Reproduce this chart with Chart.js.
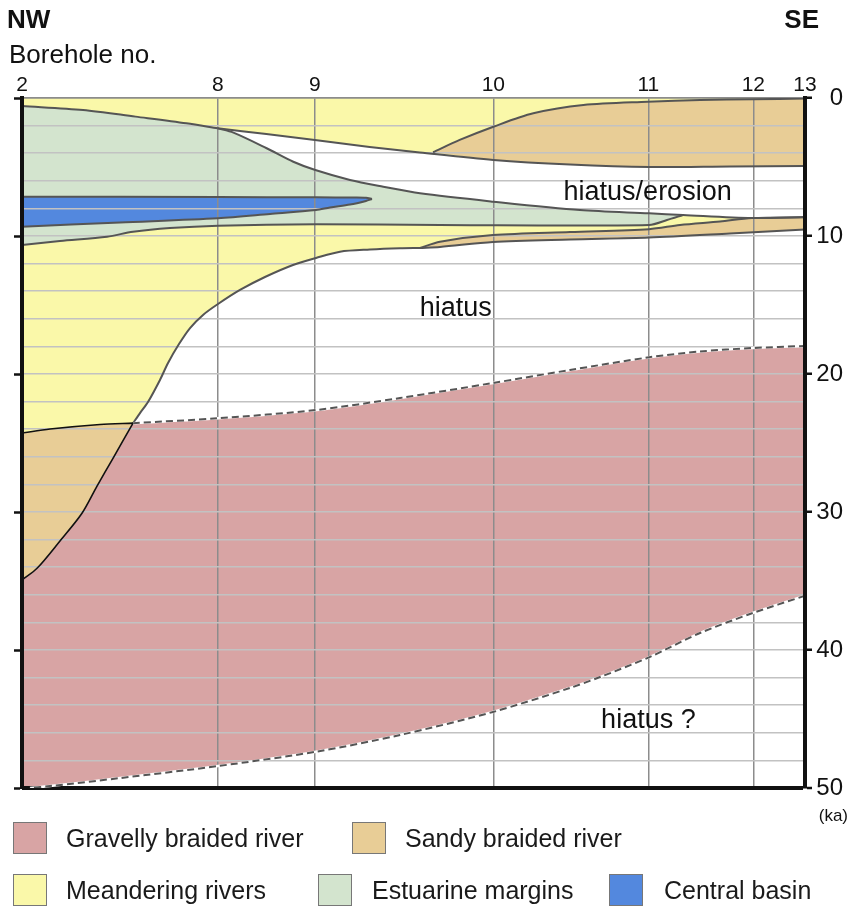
<!DOCTYPE html>
<html>
<head>
<meta charset="utf-8">
<script src="https://cdn.jsdelivr.net/npm/chart.js@4.4.1/dist/chart.umd.min.js"></script>
<style>
html,body{margin:0;padding:0;background:#fff;}
#wrap{position:relative;width:849px;height:907px;overflow:hidden;background:#fff;}
#c{position:absolute;left:0;top:0;}
.sw{position:absolute;box-sizing:border-box;border:1.5px solid #777;width:34px;height:32px;}
.lt{position:absolute;font-family:"Liberation Sans",Arial,sans-serif;font-size:25px;line-height:32px;height:32px;color:#1a1a1a;white-space:nowrap;}
</style>
</head>
<body>
<div id="wrap"><canvas id="c" width="849" height="907"></canvas></div>
<script>
// ---------- categories / tick labels ----------
const boreholeLabels = ['2', '8', '9', '10', '11', '12', '13'];
const boreholePos    = [0, 25.0, 37.4, 60.2, 80.0, 93.4, 100];   // relative distance along the NW-SE section
const ageLabelTicks  = [0, 10, 20, 30, 40, 50];                   // ka
const ageGridLines   = [0, 2, 4, 6, 8, 10, 12, 14, 16, 18, 20, 22, 24, 26, 28, 30, 32, 34, 36, 38, 40, 42, 44, 46, 48, 50];
const layerNames     = ['Gravelly braided river', 'Sandy braided river', 'Meandering rivers', 'Estuarine margins', 'Central basin'];

// ---------- unit boundaries: [distance, age (ka)] ----------
const estuarineTopWest = [[0,0.58],[7.8,0.87],[14.5,1.35],[21.0,1.83],[25.0,2.2]];
const meanderBaseUpper = [[25.0,2.2],[31.2,2.61],[37.4,3.04],[44.4,3.55],[50.8,3.95],[60.2,4.49],[70.0,4.82],[80.1,5.0],[90.4,4.96],[100,4.93]];
const sandyTopUpper    = [[52.5,3.93],[55.9,3.04],[60.2,2.08],[65.3,1.11],[71.7,0.51],[79.9,0.27],[86.6,0.14],[93.4,0.09],[100,0.04]];
const estuarineTopEast = [[25.0,2.2],[27.0,2.51],[31.25,3.64],[34.65,4.62],[37.46,5.22],[41.89,5.94],[46.14,6.43],[50.83,6.91],[60.15,7.51],[71.26,8.12],[80.08,8.36],[84.42,8.48],[93.23,8.70],[100,8.62]];
const estuarineBase    = [[0,10.65],[4.85,10.36],[10.86,10.05],[14.18,9.69],[18.9,9.42],[25.03,9.25],[37.55,9.15],[53.38,9.2],[80.08,9.2],[82.38,8.84],[84.42,8.48]];
const basinTop         = [[0,7.15],[25.03,7.17],[37.55,7.2],[42.53,7.21],[43.93,7.23],[44.7,7.32]];
const basinBase        = [[44.7,7.32],[43.93,7.46],[41.89,7.72],[39.34,7.93],[37.55,8.12],[31.67,8.41],[25.03,8.72],[12.52,9.02],[0,9.33]];
const sandyWedgeTop    = [[50.83,10.87],[53.38,10.41],[60.15,9.93],[69.99,9.71],[80.08,9.51],[84.04,9.2],[89.14,8.95],[93.23,8.7],[100,8.64]];
const sandyWedgeBase   = [[50.83,10.87],[53.38,10.8],[60.15,10.43],[69.99,10.25],[80.08,10.11],[90.42,9.82],[100,9.53]];
const meanderBaseLower = [[50.83,10.87],[48.28,10.89],[44.44,10.98],[40.61,11.14],[37.55,11.59],[34.61,12.1],[31.03,12.97],[27.84,13.91],[25.03,14.93],[23.12,15.72],[21.46,16.67],[20.05,17.83],[18.65,19.2],[17.62,20.43],[16.09,22.03],[15.07,22.83],[14.18,23.56]];
const sandyLowerTop    = [[0,24.28],[3.58,23.99],[9.96,23.66],[14.18,23.56]];
const sandyLowerEdge   = [[14.18,23.56],[11.62,26.11],[9.58,28.12],[7.66,30.09],[4.85,32.1],[1.92,34.08],[0,34.93]];
const gravelTop        = [[14.18,23.56],[25.03,23.21],[37.55,22.61],[48.28,21.74],[60.15,20.65],[69.99,19.71],[80.08,18.79],[86.59,18.37],[93.23,18.12],[100,17.97]];
const gravelBase       = [[100,36.07],[93.23,37.34],[86.59,38.77],[80.08,40.53],[73.82,41.96],[69.99,42.75],[60.15,44.49],[48.28,46.16],[37.55,47.37],[25.03,48.41],[12.52,49.28],[3.58,49.86],[1.02,50]];
const sectionCorners   = {topLeft:[0,0], topRight:[100,0], bottomLeft:[0,50]};

// ---------- styles ----------
const colors = {
  gravel: '#d8a4a4', sandy: '#e8cd96', meander: '#faf8a9', estuarine: '#d3e4ce', basin: '#5388de',
  line: '#555555', black: '#111111', gridH: '#c2c2c2', gridV: '#8c8c8c'
};
const legendColors = [colors.gravel, colors.sandy, colors.meander, colors.estuarine, colors.basin];
const TENSION = 0.3;
const FONT = '"Liberation Sans", Arial, sans-serif';

// ---------- helpers ----------
const rev = a => a.slice().reverse();
const pts = a => a.map(([x, y]) => ({x, y}));
function poly(...parts) {           // join boundary pieces into a closed outline (sharp joins)
  const out = [];
  for (const p of parts) out.push(p[0], ...p, p[p.length - 1]);
  return pts(out);
}
const fillSet = (label, data, color) => ({label, data, fill: 'shape', backgroundColor: color, borderWidth: 0, pointRadius: 0, tension: TENSION});
const lineSet = (data, color, width, dash) => ({data: pts(data), fill: false, borderColor: color, borderWidth: width, borderDash: dash || [], pointRadius: 0, tension: TENSION});

const tipX = estuarineBase[estuarineBase.length - 1][0];
const wedgeJoinX = 93.23;

// ---------- polygons (fill order: first dataset is painted last) ----------
const fills = [
  fillSet(layerNames[1], poly(sandyTopUpper, rev(meanderBaseUpper.filter(p => p[0] > sandyTopUpper[0][0]))), colors.sandy),
  fillSet(layerNames[2], poly([sectionCorners.topLeft, sectionCorners.topRight], rev(meanderBaseUpper), rev(estuarineTopWest)), colors.meander),
  fillSet(layerNames[4], poly(basinTop, basinBase), colors.basin),
  fillSet(layerNames[3], poly(estuarineTopWest, estuarineTopEast.filter(p => p[0] <= tipX), rev(estuarineBase)), colors.estuarine),
  fillSet(layerNames[1], poly(sandyWedgeTop, rev(sandyWedgeBase)), colors.sandy),
  fillSet(layerNames[2], poly(estuarineBase, estuarineTopEast.filter(p => p[0] >= tipX && p[0] <= wedgeJoinX),
                              rev(sandyWedgeTop.filter(p => p[0] <= wedgeJoinX)), meanderBaseLower, rev(sandyLowerTop)), colors.meander),
  fillSet(layerNames[1], poly(sandyLowerTop, sandyLowerEdge), colors.sandy),
  fillSet(layerNames[0], poly(rev(sandyLowerEdge), gravelTop, gravelBase, [sectionCorners.bottomLeft]), colors.gravel)
];

// ---------- boundary lines ----------
const strokes = [
  lineSet(gravelTop, colors.line, 2, [7, 4]),
  lineSet(gravelBase, colors.line, 2, [7, 4]),
  lineSet(gravelTop, '#ffffff', 2.5),
  lineSet(gravelBase, '#ffffff', 2.5),
  lineSet(sandyLowerTop, colors.black, 1.6),
  lineSet(sandyLowerEdge, colors.black, 1.6),
  lineSet(estuarineTopWest, colors.line, 2),
  lineSet(meanderBaseUpper, colors.line, 2),
  lineSet(sandyTopUpper, colors.line, 2),
  lineSet(estuarineTopEast, colors.line, 2),
  lineSet(estuarineBase, colors.line, 2),
  lineSet(basinTop, colors.line, 2),
  lineSet(basinBase, colors.line, 2),
  lineSet(sandyWedgeTop, colors.line, 2),
  lineSet(sandyWedgeBase, colors.line, 2),
  lineSet(meanderBaseLower, colors.line, 2)
];

// ---------- text annotations ----------
const regionLabels = [
  {text: 'hiatus/erosion', x: 79.9, y: 7.4},
  {text: 'hiatus', x: 55.4, y: 15.8},
  {text: 'hiatus ?', x: 80.0, y: 45.65}
];
const textPlugin = {
  id: 'sectionText',
  afterDraw(chart) {
    const {ctx, scales: {x, y}} = chart;
    ctx.save();
    ctx.fillStyle = '#111';
    ctx.textBaseline = 'alphabetic';
    ctx.font = '27px ' + FONT;
    ctx.textAlign = 'center';
    for (const r of regionLabels) ctx.fillText(r.text, x.getPixelForValue(r.x), y.getPixelForValue(r.y));
    ctx.font = 'bold 26px ' + FONT;
    ctx.textAlign = 'left';  ctx.fillText('NW', 7, 28);
    ctx.textAlign = 'right'; ctx.fillText('SE', 819, 28);
    ctx.font = '26px ' + FONT;
    ctx.textAlign = 'left';  ctx.fillText('Borehole no.', 9, 63);
    ctx.font = '17px ' + FONT;
    ctx.textAlign = 'right'; ctx.fillText('(ka)', 848, 821);
    ctx.restore();
  }
};

new Chart(document.getElementById('c'), {
  type: 'line',
  data: {datasets: [...strokes, ...fills]},
  plugins: [textPlugin],
  options: {
    responsive: false,
    animation: false,
    devicePixelRatio: 1,
    events: [],
    layout: {padding: {left: 0, right: 6, top: 0, bottom: 119}},
    plugins: {legend: {display: false}, tooltip: {enabled: false}, filler: {drawTime: 'beforeDraw'}},
    scales: {
      x: {
        type: 'linear', position: 'top', min: 0, max: 100,
        afterBuildTicks: s => { s.ticks = boreholePos.map(v => ({value: v})); },
        afterFit: s => { s.height = 98; },
        ticks: {autoSkip: false, maxRotation: 0, padding: 0, color: '#111', font: {family: FONT, size: 21},
                callback: (v, i) => boreholeLabels[i]},
        grid: {color: colors.gridV, lineWidth: 1.5, drawTicks: false},
        border: {color: colors.gridV, width: 1.5}
      },
      yL: {
        type: 'linear', position: 'left', reverse: true, min: 0, max: 50,
        afterBuildTicks: s => { s.ticks = ageLabelTicks.map(v => ({value: v})); },
        afterFit: s => { s.width = 22; },
        ticks: {display: false},
        grid: {drawOnChartArea: false, drawTicks: true, tickLength: 8, tickColor: colors.black, tickWidth: 2.5, color: colors.black},
        border: {color: colors.black, width: 4, z: 1}
      },
      y: {
        type: 'linear', position: 'right', reverse: true, min: 0, max: 50,
        afterBuildTicks: s => { s.ticks = ageGridLines.map(v => ({value: v})); },
        afterFit: s => { s.width = 38; },
        ticks: {autoSkip: false, padding: 3, crossAlign: 'far', color: '#111', font: {family: FONT, size: 24},
                callback: v => ageLabelTicks.includes(v) ? String(v) : ''},
        grid: {
          color: c => c.tick && c.tick.value === 50 ? colors.black : (c.tick && c.tick.value === 0 ? colors.gridV : colors.gridH),
          lineWidth: c => c.tick && c.tick.value === 50 ? 4 : 1.5,
          tickLength: 7, tickWidth: 2.5,
          tickColor: c => c.tick && ageLabelTicks.includes(c.tick.value) ? colors.black : 'rgba(0,0,0,0)'
        },
        border: {color: colors.black, width: 4, z: 1}
      }
    }
  }
});

// ---------- HTML legend ----------
const legendLayout = [
  {sx: 13, tx: 66, top: 822}, {sx: 352, tx: 405, top: 822},
  {sx: 13, tx: 66, top: 874}, {sx: 318, tx: 372, top: 874}, {sx: 609, tx: 664, top: 874}
];
const wrap = document.getElementById('wrap');
layerNames.forEach((name, i) => {
  const L = legendLayout[i];
  const sw = document.createElement('div');
  sw.className = 'sw'; sw.style.left = L.sx + 'px'; sw.style.top = L.top + 'px'; sw.style.background = legendColors[i];
  const t = document.createElement('div');
  t.className = 'lt'; t.style.left = L.tx + 'px'; t.style.top = L.top + 'px'; t.textContent = name;
  wrap.appendChild(sw); wrap.appendChild(t);
});
</script>
</body>
</html>
